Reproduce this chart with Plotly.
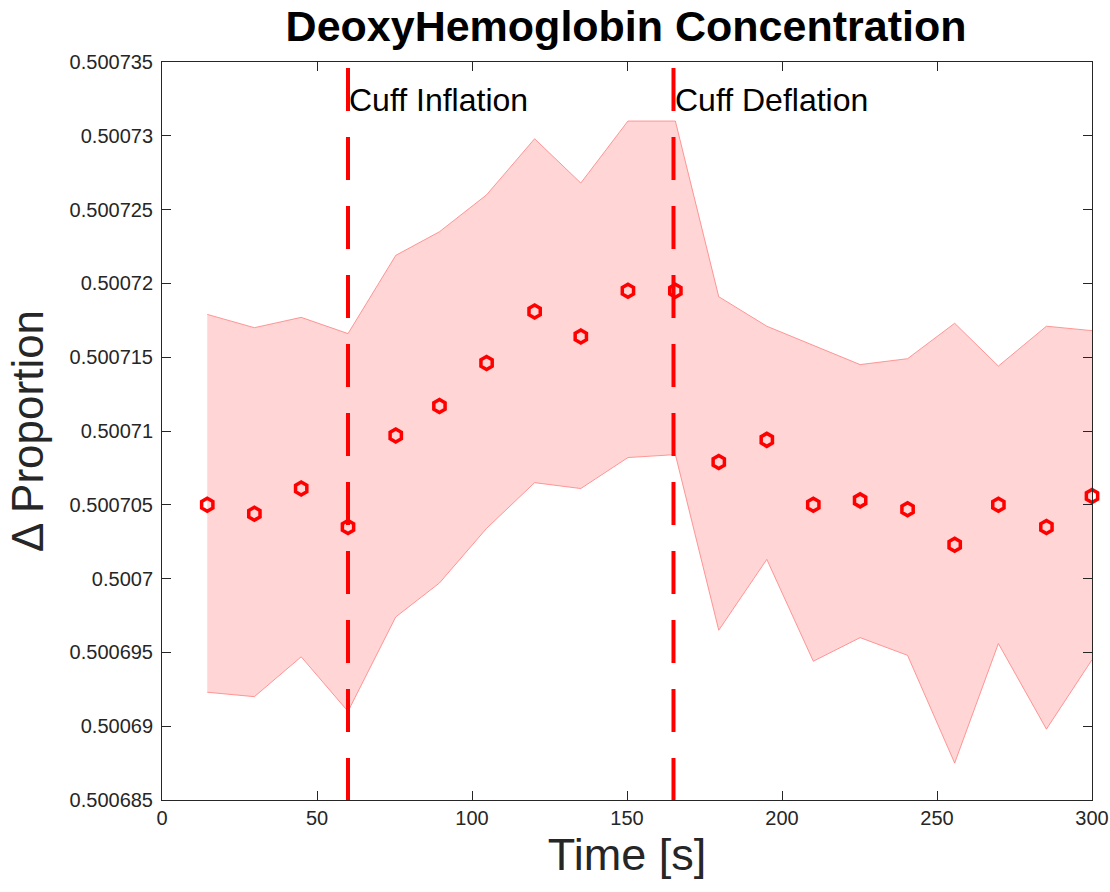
import plotly.graph_objects as go

time_s = [14.6, 29.8, 44.9, 60.0, 75.4, 89.5, 104.7, 120.2, 135.1, 150.3,
          165.6, 179.6, 195.1, 210.1, 225.2, 240.5, 255.7, 269.8, 285.3, 300.0]
mean_vals = [0.5007050, 0.5007044, 0.5007061, 0.5007035, 0.5007097, 0.5007117,
             0.5007146, 0.5007181, 0.5007164, 0.5007195, 0.5007195, 0.5007079,
             0.5007094, 0.5007050, 0.5007053, 0.5007047, 0.5007023, 0.5007050,
             0.5007035, 0.5007056]
upper_vals = [0.5007179, 0.5007170, 0.5007177, 0.5007166, 0.5007219, 0.5007235,
              0.5007260, 0.5007298, 0.5007268, 0.5007310, 0.5007310, 0.5007191,
              0.5007171, 0.5007158, 0.5007145, 0.5007149, 0.5007173, 0.5007144,
              0.5007171, 0.5007168]
lower_vals = [0.5006923, 0.5006920, 0.5006947, 0.5006910, 0.5006974, 0.5006997,
              0.5007034, 0.5007065, 0.5007061, 0.5007082, 0.5007084, 0.5006965,
              0.5007013, 0.5006944, 0.5006960, 0.5006948, 0.5006875, 0.5006956,
              0.5006898, 0.5006945]

event_times = [60, 165]
event_labels = ["Cuff Inflation", "Cuff Deflation"]

y_tickvals = [0.500685, 0.50069, 0.500695, 0.5007, 0.500705, 0.50071, 0.500715,
              0.50072, 0.500725, 0.50073, 0.500735]
y_ticktext = ["0.500685", "0.50069", "0.500695", "0.5007", "0.500705", "0.50071",
              "0.500715", "0.50072", "0.500725", "0.50073", "0.500735"]
x_tickvals = [0, 50, 100, 150, 200, 250, 300]

FONT = "Liberation Sans, Arial, Helvetica, sans-serif"
AXC = "#262626"

fig = go.Figure()
fig.add_trace(go.Scatter(x=time_s, y=upper_vals, mode="lines",
                         line=dict(color="rgba(255,120,120,0.75)", width=1),
                         showlegend=False, hoverinfo="skip"))
fig.add_trace(go.Scatter(x=time_s, y=lower_vals, mode="lines", fill="tonexty",
                         fillcolor="rgba(255,0,0,0.165)",
                         line=dict(color="rgba(255,120,120,0.75)", width=1),
                         showlegend=False, hoverinfo="skip"))

for t in event_times:
    fig.add_trace(go.Scatter(x=[t, t], y=[0.5007346, 0.500685], mode="lines",
                             line=dict(color="#ff0000", width=4, dash="43px,26px"),
                             showlegend=False, hoverinfo="skip"))

fig.add_trace(go.Scatter(x=time_s, y=mean_vals, mode="markers",
                         marker=dict(symbol="hexagon-open", size=13, color="#ff0000",
                                     line=dict(width=3.5, color="#ff0000")),
                         cliponaxis=False, showlegend=False))

for t, lab in zip(event_times, event_labels):
    fig.add_annotation(x=t, y=0.5007324, xref="x", yref="y", text=lab,
                       showarrow=False, xanchor="left", yanchor="middle", xshift=-1,
                       font=dict(family=FONT, size=32, color="black"))

axis_common = dict(showline=True, linecolor=AXC, linewidth=1, mirror="allticks",
                   ticks="inside", ticklen=9, tickcolor=AXC, tickwidth=1,
                   showgrid=False, zeroline=False, automargin=False,
                   tickfont=dict(family=FONT, size=20, color=AXC))

fig.update_xaxes(range=[0, 300], tickvals=x_tickvals,
                 title=dict(text="Time [s]", font=dict(family=FONT, size=45, color=AXC),
                            standoff=10),
                 **axis_common)
fig.update_yaxes(range=[0.500685, 0.500735], tickvals=y_tickvals, ticktext=y_ticktext,
                 ticklabelstandoff=4,
                 title=dict(text="Δ Proportion", font=dict(family=FONT, size=44, color=AXC),
                            standoff=12),
                 **axis_common)

fig.update_layout(
    width=1110, height=892,
    margin=dict(l=162, r=18, t=62, b=92),
    plot_bgcolor="white", paper_bgcolor="white",
    title=dict(text="<b>DeoxyHemoglobin Concentration</b>", x=0.564, xanchor="center",
               y=0.971, yanchor="middle",
               font=dict(family=FONT, size=43, color="black")),
)

fig.write_html("out.html")
